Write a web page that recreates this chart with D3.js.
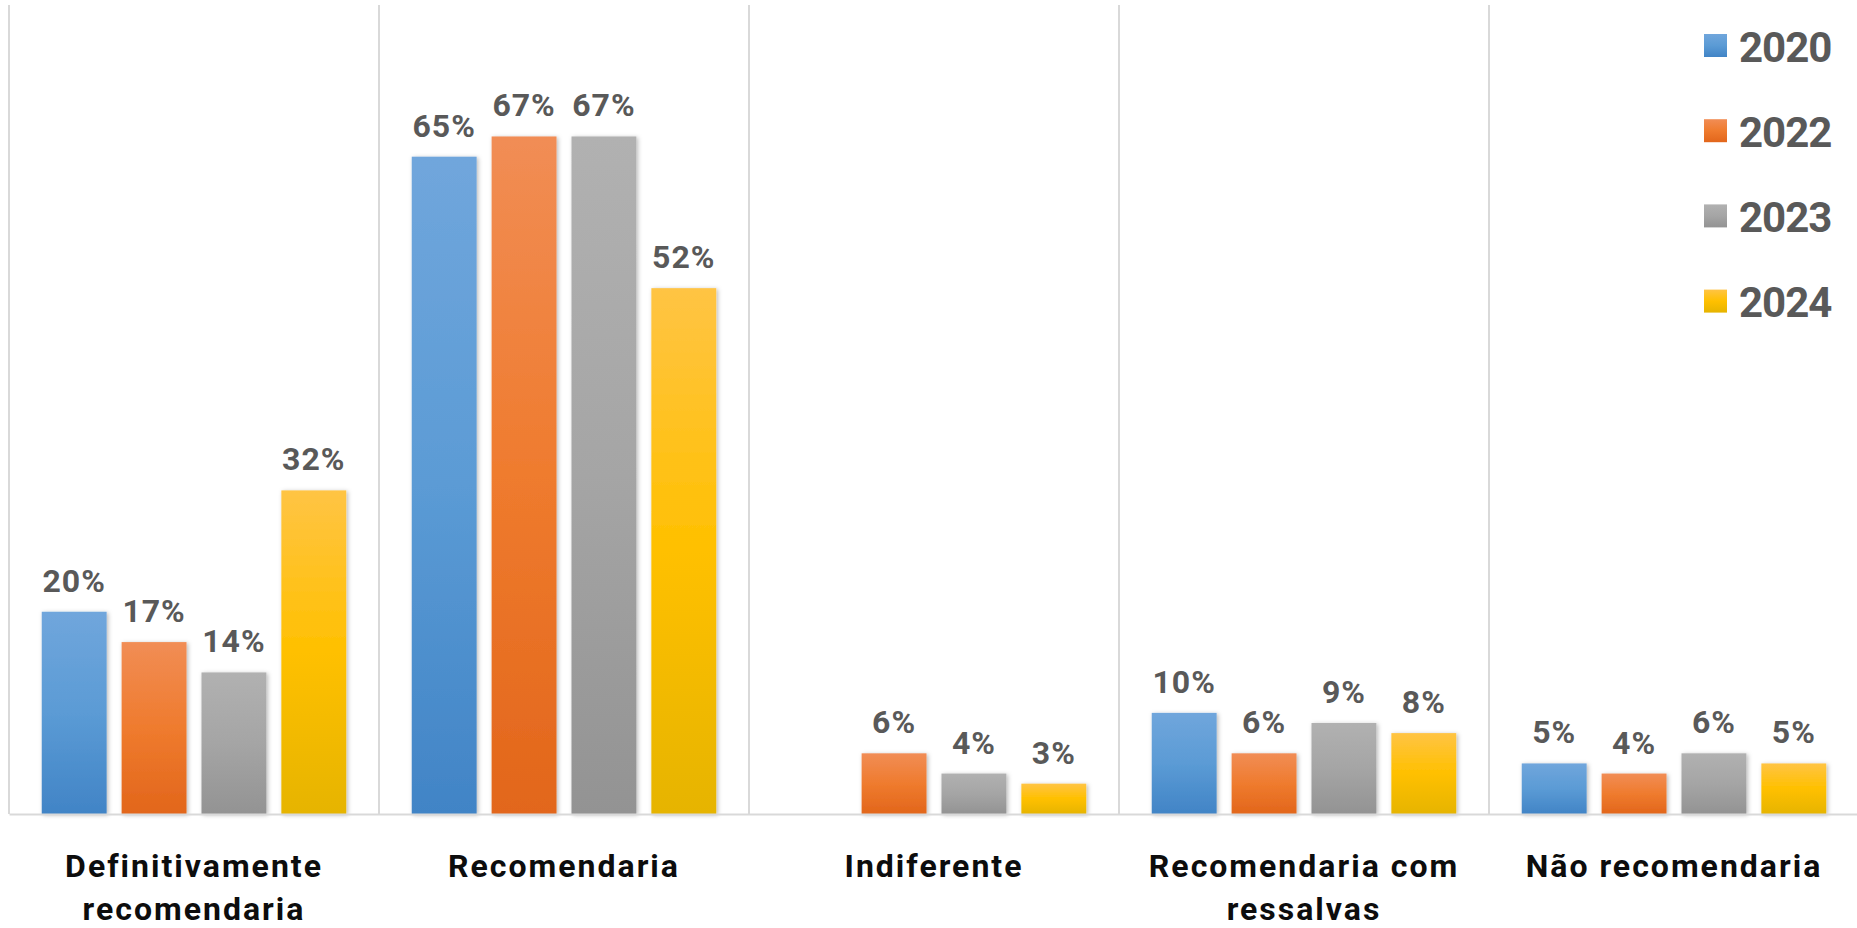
<!DOCTYPE html>
<html>
<head>
<meta charset="utf-8">
<script src="https://cdn.jsdelivr.net/npm/d3@7"></script>
<style>
  html, body { margin: 0; padding: 0; background: #fff; }
  svg { display: block; }
  text { font-family: Roboto, "Noto Sans", sans-serif; font-weight: 700; }
</style>
</head>
<body>
<svg id="chart" width="1857" height="928"></svg>
<script>
// Survey answers: would you recommend? (share of respondents, %)
const categories = [
  "Definitivamente recomendaria",
  "Recomendaria",
  "Indiferente",
  "Recomendaria com ressalvas",
  "Não recomendaria"
];
const years = ["2020", "2022", "2023", "2024"];
const values2020 = [20, 65, null, 10, 5];
const values2022 = [17, 67, 6, 6, 4];
const values2023 = [14, 67, 4, 9, 6];
const values2024 = [32, 52, 3, 8, 5];
const yDomain = [0, 80];

const series = [values2020, values2022, values2023, values2024];
const palette = {
  "2020": ["#70a6dc", "#5b9bd5", "#4184c6"],
  "2022": ["#f18d55", "#ef7b2e", "#e2661b"],
  "2023": ["#b1b1b1", "#a5a5a5", "#939393"],
  "2024": ["#ffc444", "#ffc000", "#e6b400"]
};

const svg = d3.select("#chart");
const plot = { left: 9, right: 1859, top: 5, bottom: 814 };

const x0 = d3.scaleBand().domain(categories).range([plot.left, plot.right]).padding(0);
const x1 = d3.scaleBand().domain(years).range([0, x0.bandwidth()])
  .paddingInner(0.1875).paddingOuter(0.41);
const y = d3.scaleLinear().domain(yDomain).range([plot.bottom, plot.top]);

const defs = svg.append("defs");
years.forEach(yr => {
  const g = defs.append("linearGradient")
    .attr("id", "grad" + yr).attr("x1", 0).attr("y1", 0).attr("x2", 0).attr("y2", 1);
  g.append("stop").attr("offset", "0%").attr("stop-color", palette[yr][0]);
  g.append("stop").attr("offset", "50%").attr("stop-color", palette[yr][1]);
  g.append("stop").attr("offset", "100%").attr("stop-color", palette[yr][2]);
});
const shadow = defs.append("filter").attr("id", "barShadow")
  .attr("x", "-20%").attr("y", "-10%").attr("width", "140%").attr("height", "120%");
shadow.append("feDropShadow").attr("dx", 1.5).attr("dy", 1).attr("stdDeviation", 2)
  .attr("flood-color", "#000").attr("flood-opacity", 0.28);

// Category separators (vertical gridlines at band edges)
const edges = categories.map(c => x0(c)).concat([x0(categories[categories.length - 1]) + x0.bandwidth()]);
svg.append("g").selectAll("line").data(edges).join("line")
  .attr("x1", d => d).attr("x2", d => d)
  .attr("y1", plot.top).attr("y2", plot.bottom)
  .attr("stroke", "#d9d9d9").attr("stroke-width", 2);

// Bars
const rows = [];
categories.forEach((c, i) => {
  years.forEach((yr, j) => {
    const v = series[j][i];
    if (v !== null) rows.push({ cat: c, year: yr, value: v });
  });
});

svg.append("g").selectAll("rect").data(rows).join("rect")
  .attr("x", d => x0(d.cat) + x1(d.year))
  .attr("y", d => y(d.value))
  .attr("width", x1.bandwidth())
  .attr("height", d => y(0) - y(d.value))
  .attr("fill", d => `url(#grad${d.year})`)
  .attr("filter", "url(#barShadow)");

// Baseline axis
const xAxis = d3.axisBottom(x0).tickSize(0).tickFormat("");
svg.append("g").attr("transform", `translate(0,${plot.bottom})`).call(xAxis)
  .call(g => g.select(".domain").attr("stroke", "#d9d9d9").attr("stroke-width", 2));

// Value labels
svg.append("g").selectAll("text").data(rows).join("text")
  .attr("x", d => x0(d.cat) + x1(d.year) + x1.bandwidth() / 2)
  .attr("y", d => y(d.value) - 20)
  .attr("text-anchor", "middle")
  .attr("font-size", 32)
  .attr("letter-spacing", 1)
  .attr("fill", "#595959")
  .text(d => d.value + "%");

// Category labels, wrapped to fit the band
const catG = svg.append("g");
categories.forEach(c => {
  const cx = x0(c) + x0.bandwidth() / 2;
  const t = catG.append("text")
    .attr("x", cx)
    .attr("y", 877)
    .attr("text-anchor", "middle")
    .attr("font-size", 32)
    .attr("letter-spacing", 2)
    .attr("fill", "#0d0d0d");
  const words = c.split(" ");
  let line = [];
  let tspan = t.append("tspan").attr("x", cx).attr("dy", 0);
  words.forEach(w => {
    line.push(w);
    tspan.text(line.join(" "));
    if (tspan.node().getComputedTextLength() > 345 && line.length > 1) {
      line.pop();
      tspan.text(line.join(" "));
      line = [w];
      tspan = t.append("tspan").attr("x", cx).attr("dy", 43).text(w);
    }
  });
});

// Legend
const legend = svg.append("g").attr("transform", "translate(1704,0)");
years.forEach((yr, i) => {
  const cy = 45.5 + i * 85.2;
  legend.append("rect")
    .attr("x", 0).attr("y", cy - 11.5).attr("width", 23).attr("height", 23)
    .attr("fill", `url(#grad${yr})`);
  legend.append("text")
    .attr("x", 35).attr("y", cy + 16)
    .attr("font-size", 42)
    .attr("letter-spacing", -1)
    .attr("fill", "#595959")
    .text(yr);
});
</script>
</body>
</html>
